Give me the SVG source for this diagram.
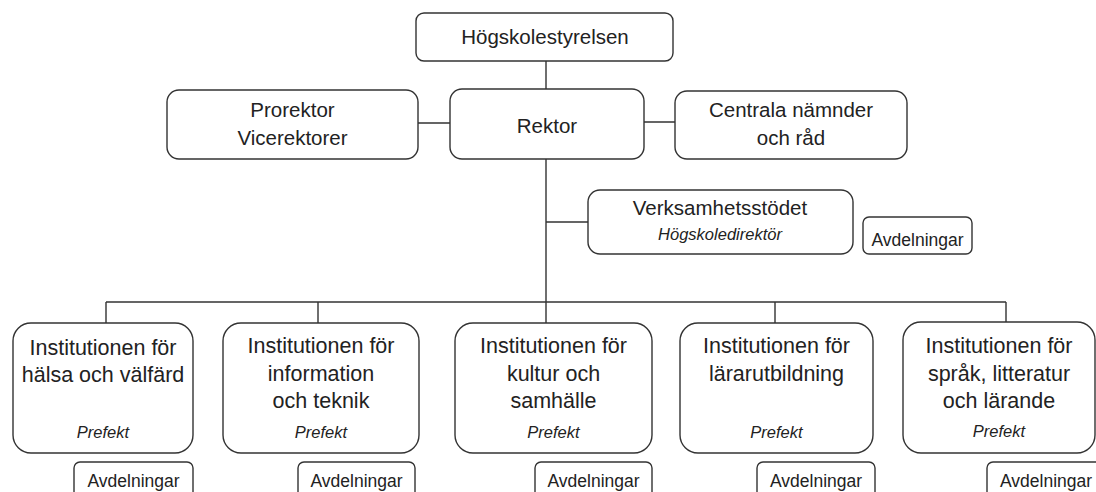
<svg xmlns="http://www.w3.org/2000/svg" width="1096" height="492" viewBox="0 0 1096 492">
<style>
.box{fill:#fff;stroke:#333;stroke-width:1.4}
.ln{fill:none;stroke:#333;stroke-width:1.4}
text{font-family:"Liberation Sans",Arial,sans-serif;fill:#222;text-anchor:middle}
.t{font-size:20.5px}
.b{font-size:21.5px}
.s{font-size:17.5px}
.i{font-size:16.5px;font-style:italic}
</style>
<rect width="1096" height="492" fill="#fff"/>
<g id="connectors">
<path class="ln" d="M546 61V89M418 123H450M644 122H675M546 159V302M546 222H588M106 302H1006M106 302V323M318 302V323M546 302V323M775 302V323M1006 302V323"/>
</g>
<g id="hogskolestyrelsen"><rect class="box" x="416" y="13" width="257" height="48" rx="8"/><text class="t" x="545" y="44">Högskolestyrelsen</text></g>
<g id="prorektor"><rect class="box" x="167" y="90" width="251" height="69" rx="12"/><text class="t" x="292.5" y="117">Prorektor</text><text class="t" x="292.5" y="145">Vicerektorer</text></g>
<g id="rektor"><rect class="box" x="450" y="89" width="194" height="70" rx="12"/><text class="t" x="547" y="133">Rektor</text></g>
<g id="centrala"><rect class="box" x="675" y="91" width="232" height="68" rx="12"/><text class="t" x="791" y="117">Centrala nämnder</text><text class="t" x="791" y="145">och råd</text></g>
<g id="verksamhetsstodet"><rect class="box" x="588" y="190" width="265" height="64" rx="12"/><text class="t" x="720" y="215">Verksamhetsstödet</text><text class="i" x="720" y="240">Högskoledirektör</text></g>
<g id="avd-vs"><rect class="box" x="863" y="217" width="109" height="37" rx="6"/><text class="s" x="917.5" y="246">Avdelningar</text></g>
<g id="inst-halsa"><rect class="box" x="13" y="323" width="180" height="130" rx="18"/><text class="b" x="103" y="355">Institutionen för</text><text class="b" x="103" y="382">hälsa och välfärd</text><text class="i" x="103" y="438">Prefekt</text></g>
<g id="avd-1"><rect class="box" x="74" y="462" width="119" height="40" rx="6"/><text class="s" x="133.5" y="487">Avdelningar</text></g>
<g id="inst-info"><rect class="box" x="223" y="323" width="196" height="130" rx="18"/><text class="b" x="321" y="353">Institutionen för</text><text class="b" x="321" y="381">information</text><text class="b" x="321" y="408">och teknik</text><text class="i" x="321" y="438">Prefekt</text></g>
<g id="avd-2"><rect class="box" x="298" y="462" width="117" height="40" rx="6"/><text class="s" x="356.5" y="487">Avdelningar</text></g>
<g id="inst-kultur"><rect class="box" x="455" y="323" width="197" height="130" rx="18"/><text class="b" x="553.5" y="353">Institutionen för</text><text class="b" x="553.5" y="381">kultur och</text><text class="b" x="553.5" y="408">samhälle</text><text class="i" x="553.5" y="438">Prefekt</text></g>
<g id="avd-3"><rect class="box" x="535" y="462" width="117" height="40" rx="6"/><text class="s" x="593.5" y="487">Avdelningar</text></g>
<g id="inst-larar"><rect class="box" x="680" y="323" width="193" height="130" rx="18"/><text class="b" x="776.5" y="353">Institutionen för</text><text class="b" x="776.5" y="381">lärarutbildning</text><text class="i" x="776.5" y="438">Prefekt</text></g>
<g id="avd-4"><rect class="box" x="757" y="462" width="118" height="40" rx="6"/><text class="s" x="816" y="487">Avdelningar</text></g>
<g id="inst-sprak"><rect class="box" x="903" y="322" width="192" height="131" rx="18"/><text class="b" x="999" y="353">Institutionen för</text><text class="b" x="999" y="381">språk, litteratur</text><text class="b" x="999" y="408">och lärande</text><text class="i" x="999" y="437">Prefekt</text></g>
<g id="avd-5"><rect class="box" x="987" y="462" width="118" height="40" rx="6"/><text class="s" x="1046" y="487">Avdelningar</text></g>
</svg>
